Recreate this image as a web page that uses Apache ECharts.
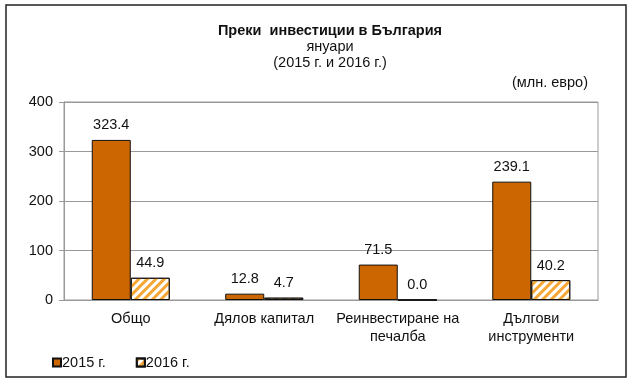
<!DOCTYPE html>
<html>
<head>
<meta charset="utf-8">
<script src="https://cdn.jsdelivr.net/npm/echarts@6/dist/echarts.min.js"></script>
<style>html,body{margin:0;padding:0;background:#fff;}#c{width:635px;height:383px;}</style>
</head>
<body>
<div id="c"></div>
<script>
const categories = ['Общо', 'Дялов капитал', 'Реинвестиране на\nпечалба', 'Дългови\nинструменти'];
const values2015 = [323.4, 12.8, 71.5, 239.1];
const values2016 = [44.9, 4.7, 0.0, 40.2];
const seriesNames = ['2015 г.', '2016 г.'];
const yTicks = [0, 100, 200, 300, 400];
const titleLines = ['Преки  инвестиции в България', 'януари', '(2015 г. и 2016 г.)'];
const unitLabel = '(млн. евро)';

const FONT = "'Liberation Sans', Arial, sans-serif";
const FS = 14.5;
const chart = echarts.init(document.getElementById('c'));
const labelCfg = {
  show: true, position: 'top', distance: 7,
  fontFamily: FONT, fontSize: FS, color: '#111',
  formatter: p => p.value.toFixed(1)
};
function txt(text, x, y, align, bold, size) {
  return { type: 'text', x: x, y: y, silent: true,
    style: { text: text, textAlign: align, textVerticalAlign: 'middle',
      font: (bold ? 'bold ' : '') + size + 'px ' + FONT, fill: '#111' } };
}
chart.setOption({
  animation: false,
  backgroundColor: '#fff',
  graphic: [
    { type: 'rect', shape: { x: 6, y: 5, width: 620, height: 372 }, silent: true,
      style: { fill: 'none', stroke: '#222', lineWidth: 1.5 } },
    txt(titleLines[0], 330, 31, 'center', true, 14.5),
    txt(titleLines[1], 330, 47, 'center', false, FS),
    txt(titleLines[2], 330, 63, 'center', false, FS),
    txt(unitLabel, 588, 83, 'right', false, FS)
  ],
  legend: {
    left: 47, top: 350, itemWidth: 8, itemHeight: 8, itemGap: 30, icon: 'rect',
    textStyle: { fontFamily: FONT, fontSize: FS, color: '#111', padding: [0, 0, 0, -4] },
    data: seriesNames
  },
  grid: { left: 64, top: 102, right: 37, bottom: 83, show: true, borderColor: '#999', borderWidth: 1 },
  xAxis: {
    type: 'category', data: categories,
    axisLine: { show: true, lineStyle: { color: '#999' } },
    axisTick: { show: false },
    axisLabel: { fontFamily: FONT, fontSize: FS, color: '#111', margin: 10, lineHeight: 18, interval: 0 }
  },
  yAxis: {
    type: 'value', min: yTicks[0], max: yTicks[yTicks.length - 1], interval: 100,
    axisLine: { show: true, lineStyle: { color: '#999' } },
    axisTick: { show: true, length: 5, lineStyle: { color: '#999' } },
    axisLabel: { fontFamily: FONT, fontSize: FS, color: '#111', margin: 11 },
    splitLine: { lineStyle: { color: '#999' } }
  },
  series: [
    { name: seriesNames[0], type: 'bar', data: values2015, barWidth: 39, barGap: '0%',
      itemStyle: { color: '#CC6600', borderColor: '#111', borderWidth: 1 },
      label: labelCfg },
    { name: seriesNames[1], type: 'bar', data: values2016, barWidth: 39,
      itemStyle: { color: '#fff', borderColor: '#111', borderWidth: 1,
        decal: { symbol: 'rect', symbolSize: 1, dashArrayX: [1, 0], dashArrayY: [3, 3],
                 rotation: -Math.PI / 4, color: '#F5A735' } },
      label: labelCfg }
  ]
});
</script>
</body>
</html>
